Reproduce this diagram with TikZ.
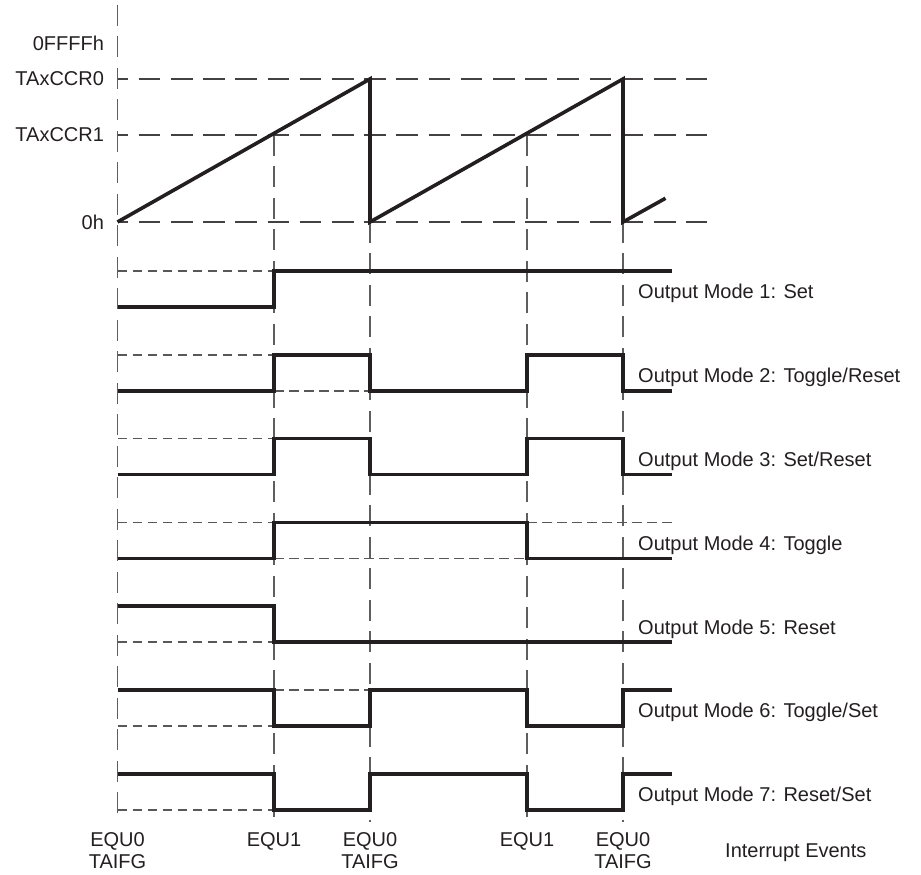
\documentclass[tikz,border=0pt]{standalone}
\usepackage{fontspec}
\setmainfont{Liberation Sans}
\usetikzlibrary{positioning}
\definecolor{ink}{HTML}{231F20}
\definecolor{gridgray}{HTML}{5D5E61}

\begin{document}
\begin{tikzpicture}[
  x=1pt, y=1pt,
  font=\fontsize{20}{22}\selectfont,
  signal/.style={draw=ink, line width=3.6pt, line join=miter},
  grid/.style={draw=gridgray, line width=1.6pt, dash pattern=on 21pt off 10.5pt},
  level/.style={draw=ink!85, line width=1.8pt, dash pattern=on 21.7pt off 10.5pt, dash phase=11pt},
  ref/.style={draw=ink!75, line width=1.5pt, dash pattern=on 9.5pt off 5.5pt},
  axislabel/.style={left=10pt, text=ink},
  modelabel/.style={anchor=base west, text=ink},
  eventlabel/.style={anchor=base, text=ink}
]
\useasboundingbox (0,0) rectangle (921,875);

% Event positions (x) and counter levels (y)
\def\xA{117.5}
\def\xB{274}
\def\xC{370}
\def\xD{527}
\def\xE{623}
\def\xEnd{672}
\def\yTop{796}
\def\yCmp{740}
\def\yZero{653}
\def\yBot{53}
\def\lo{-36}

% ---------- grid ----------
\draw[grid] (\xA,870) -- (\xA,\yBot);
\draw[grid] (\xB,\yCmp) -- (\xB,\yBot);
\draw[grid] (\xC,\yZero) -- (\xC,\yBot);
\draw[grid] (\xD,\yCmp) -- (\xD,\yBot);
\draw[grid] (\xE,\yZero) -- (\xE,\yBot);

\draw[level] (\xA,\yTop) -- (707,\yTop);
\draw[level] (\xA,\yCmp) -- (707,\yCmp);
\draw[level] (\xA,\yZero) -- (707,\yZero);

\node[axislabel] (lblFFFF) at (\xA,832) {0FFFFh};
\node[axislabel] (lblCCR0) at (\xA,\yTop) {TAxCCR0};
\node[axislabel] (lblCCR1) at (\xA,\yCmp) {TAxCCR1};
\node[axislabel] (lblZero) at (\xA,\yZero) {0h};

% ---------- counter (up mode) ----------
\draw[signal] (\xA,\yZero) -- (\xC,\yTop) -- (\xC,\yZero) -- (\xE,\yTop)
  -- (\xE,\yZero) -- (665.5,676.7);

% =========================================================
% OUTPUT MODES
% =========================================================
% MODE 1
\begin{scope}[shift={(0,604)}]
  \draw[ref] (\xA,0) -- (\xB,0);
  \draw[signal] (\xA,\lo) -- (\xB,\lo) -- (\xB,0) -- (\xEnd,0);
  \node[modelabel] (mode1) at (634.7,-28) {Output Mode 1: Set};
\end{scope}

% MODE 2
\begin{scope}[shift={(0,520.2)}]
  \draw[ref] (\xA,0) -- (\xB,0);
  \draw[ref] (\xB,\lo) -- (\xC,\lo);
  \draw[signal] (\xA,\lo) -- (\xB,\lo) -- (\xB,0) -- (\xC,0) -- (\xC,\lo)
    -- (\xD,\lo) -- (\xD,0) -- (\xE,0) -- (\xE,\lo) -- (\xEnd,\lo);
  \node[modelabel] (mode2) at (634.7,-28) {Output Mode 2: Toggle/Reset};
\end{scope}

% MODE 3
\begin{scope}[shift={(0,436.4)}]
  \draw[ref] (\xA,0) -- (\xB,0);
  \draw[signal] (\xA,\lo) -- (\xB,\lo) -- (\xB,0) -- (\xC,0) -- (\xC,\lo)
    -- (\xD,\lo) -- (\xD,0) -- (\xE,0) -- (\xE,\lo) -- (\xEnd,\lo);
  \node[modelabel] (mode3) at (634.7,-28) {Output Mode 3: Set/Reset};
\end{scope}

% MODE 4
\begin{scope}[shift={(0,352.6)}]
  \draw[ref] (\xA,0) -- (\xB,0);
  \draw[ref] (\xB,\lo) -- (\xD,\lo);
  \draw[ref] (\xD,0) -- (\xEnd,0);
  \draw[signal] (\xA,\lo) -- (\xB,\lo) -- (\xB,0) -- (\xD,0) -- (\xD,\lo)
    -- (\xEnd,\lo);
  \node[modelabel] (mode4) at (634.7,-28) {Output Mode 4: Toggle};
\end{scope}

% MODE 5
\begin{scope}[shift={(0,268.8)}]
  \draw[ref] (\xA,\lo) -- (\xB,\lo);
  \draw[signal] (\xA,0) -- (\xB,0) -- (\xB,\lo) -- (\xEnd,\lo);
  \node[modelabel] (mode5) at (634.7,-28) {Output Mode 5: Reset};
\end{scope}

% MODE 6
\begin{scope}[shift={(0,185)}]
  \draw[ref] (\xA,\lo) -- (\xB,\lo);
  \draw[ref] (\xB,0) -- (\xC,0);
  \draw[signal] (\xA,0) -- (\xB,0) -- (\xB,\lo) -- (\xC,\lo) -- (\xC,0)
    -- (\xD,0) -- (\xD,\lo) -- (\xE,\lo) -- (\xE,0) -- (\xEnd,0);
  \node[modelabel] (mode6) at (634.7,-28) {Output Mode 6: Toggle/Set};
\end{scope}

% MODE 7
\begin{scope}[shift={(0,101.2)}]
  \draw[ref] (\xA,\lo) -- (\xB,\lo);
  \draw[signal] (\xA,0) -- (\xB,0) -- (\xB,\lo) -- (\xC,\lo) -- (\xC,0)
    -- (\xD,0) -- (\xD,\lo) -- (\xE,\lo) -- (\xE,0) -- (\xEnd,0);
  \node[modelabel] (mode7) at (634.7,-28) {Output Mode 7: Reset/Set};
\end{scope}

% ---------- interrupt events ----------
\node[eventlabel] (evA)  at (\xA,28) {EQU0};
\node[eventlabel] (evAf) at (\xA,6)  {TAIFG};
\node[eventlabel] (evB)  at (\xB,28) {EQU1};
\node[eventlabel] (evC)  at (\xC,28) {EQU0};
\node[eventlabel] (evCf) at (\xC,6)  {TAIFG};
\node[eventlabel] (evD)  at (\xD,28) {EQU1};
\node[eventlabel] (evE)  at (\xE,28) {EQU0};
\node[eventlabel] (evEf) at (\xE,6)  {TAIFG};
\node[anchor=base west, text=ink] (events) at (721.7,17) {Interrupt Events};
\end{tikzpicture}
\end{document}
